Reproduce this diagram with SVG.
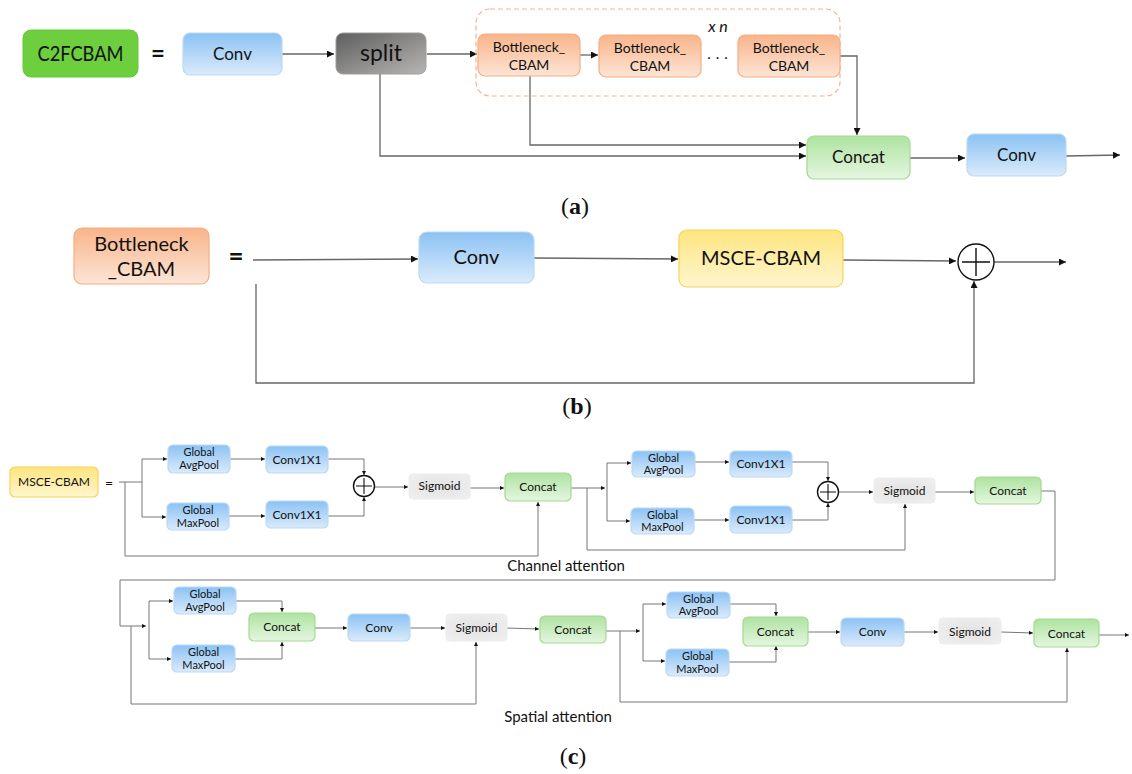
<svg xmlns="http://www.w3.org/2000/svg" width="1132" height="774" viewBox="0 0 1132 774">
<defs>
<linearGradient id="gBlue" x1="0" y1="0" x2="0" y2="1"><stop offset="0" stop-color="#8bc2f4"/><stop offset="1" stop-color="#dbebfb"/></linearGradient>
<linearGradient id="gOrange" x1="0" y1="0" x2="0" y2="1"><stop offset="0" stop-color="#f8b48a"/><stop offset="1" stop-color="#fde5d6"/></linearGradient>
<linearGradient id="gGreen" x1="0" y1="0" x2="0" y2="1"><stop offset="0" stop-color="#aee3a0"/><stop offset="1" stop-color="#e5f6e0"/></linearGradient>
<linearGradient id="gYellow" x1="0" y1="0" x2="0" y2="1"><stop offset="0" stop-color="#fde57f"/><stop offset="1" stop-color="#fff6cf"/></linearGradient>
<linearGradient id="gSplit" x1="0" y1="0" x2="1" y2="1"><stop offset="0" stop-color="#5e5e5e"/><stop offset="1" stop-color="#b8b6b4"/></linearGradient>
<radialGradient id="gSig" cx="0.5" cy="0.5" r="0.7"><stop offset="0" stop-color="#e2e2e2"/><stop offset="1" stop-color="#f0f0f0"/></radialGradient>
<marker id="ah" viewBox="0 0 10 10" refX="10" refY="5" markerWidth="8" markerHeight="7" markerUnits="userSpaceOnUse" orient="auto"><path d="M0,0 L10,5 L0,10 z" fill="#111"/></marker>
<marker id="as" viewBox="0 0 10 10" refX="10" refY="5" markerWidth="5" markerHeight="4" markerUnits="userSpaceOnUse" orient="auto"><path d="M0,0 L10,5 L0,10 z" fill="#111"/></marker>
</defs>
<style>
text{font-family:Lato,"Liberation Sans",sans-serif;fill:#111;text-anchor:middle}
.blue{fill:url(#gBlue);stroke:#b9d9f6;stroke-width:1.2}
.orange{fill:url(#gOrange);stroke:#f5ad82;stroke-width:1.2}
.green{fill:url(#gGreen);stroke:#a3d991;stroke-width:1.2}
.yellow{fill:url(#gYellow);stroke:#f7d35a;stroke-width:1.2}
.sig{fill:url(#gSig);stroke:#ececec;stroke-width:1}
.ca{fill:none;stroke:#666;stroke-width:1.3}
.cc{fill:none;stroke:#777;stroke-width:1}
.ab{marker-end:url(#ah)}
.as{marker-end:url(#as)}
.cap{font-family:"Liberation Serif",serif;font-size:24px}
.t17{font-size:17px}
.t13{font-size:14px}
.t20{font-size:20px}
.t12{font-size:12px}
.t11{font-size:11px}
.plus{fill:#fff;stroke:#111;stroke-width:1.4}
</style>

<!-- connectors -->
<g id="connectors">
<!-- (a) -->
<path class="ca ab" d="M282,54 L334,54"/>
<path class="ca ab" d="M427,54 L477,54"/>
<path class="ca ab" d="M580,55 L598,55"/>
<path class="ca ab" d="M840,56 L857,56 L857,135"/>
<path class="ca ab" d="M530,76 L530,145 L806,145"/>
<path class="ca ab" d="M380,74 L380,156 L806,156"/>
<path class="ca ab" d="M910,158 L965,158"/>
<path class="ca ab" d="M1066,156 L1120,155"/>
<!-- (b) -->
<path class="ca ab" d="M253,260 L418,259"/>
<path class="ca ab" d="M534,258 L678,259"/>
<path class="ca ab" d="M843,260 L956,261"/>
<path class="ca ab" d="M994,262 L1066,262"/>
<path class="ca ab" d="M256,284 L256,383 L974,383 L974,281"/>
<!-- (c) channel block 1 -->
<path class="cc" d="M119,482 L142,482"/>
<path class="cc" d="M142,459 L142,517"/>
<path class="cc as" d="M142,459 L167,459"/>
<path class="cc as" d="M142,517 L166,517"/>
<path class="cc as" d="M125,482 L125,556 L538,556 L538,502"/>
<path class="cc as" d="M230,459 L265,459"/>
<path class="cc as" d="M229,516 L265,516"/>
<path class="cc as" d="M328,459 L364,459 L364,475"/>
<path class="cc as" d="M328,516 L364,516 L364,497"/>
<path class="cc as" d="M375,487 L408,487"/>
<path class="cc as" d="M470,488 L504,488"/>
<path class="cc as" d="M571,488 L605,488"/>
<path class="cc" d="M607,463 L607,521"/>
<path class="cc as" d="M607,463 L631,463"/>
<path class="cc as" d="M607,521 L630,521"/>
<path class="cc as" d="M587,488 L587,550 L905,550 L905,504"/>
<!-- (c) channel block 2 -->
<path class="cc as" d="M695,462 L729,462"/>
<path class="cc as" d="M694,520 L729,520"/>
<path class="cc as" d="M792,462 L828,462 L828,481"/>
<path class="cc as" d="M792,520 L828,520 L828,503"/>
<path class="cc as" d="M839,492 L873,492"/>
<path class="cc as" d="M935,492 L974,492"/>
<path class="cc as" d="M1041,491 L1055,491 L1055,580 L120,580 L120,626 L146,626"/>
<!-- (c) spatial block 1 -->
<path class="cc" d="M149,601 L149,659"/>
<path class="cc as" d="M149,601 L173,601"/>
<path class="cc as" d="M149,659 L171,659"/>
<path class="cc as" d="M131,626 L131,704 L476,704 L476,642"/>
<path class="cc as" d="M236,601 L282,601 L282,612"/>
<path class="cc as" d="M235,659 L282,659 L282,642"/>
<path class="cc as" d="M315,628 L347,628"/>
<path class="cc as" d="M410,628 L445,628"/>
<path class="cc as" d="M507,628 L539,629"/>
<path class="cc as" d="M606,631 L640,631"/>
<path class="cc" d="M643,604 L643,661"/>
<path class="cc as" d="M643,604 L666,604"/>
<path class="cc as" d="M643,661 L665,661"/>
<path class="cc as" d="M620,631 L620,702 L1067,702 L1067,648"/>
<!-- (c) spatial block 2 -->
<path class="cc as" d="M730,604 L776,604 L776,616"/>
<path class="cc as" d="M729,662 L776,662 L776,646"/>
<path class="cc as" d="M808,632 L840,632"/>
<path class="cc as" d="M904,632 L938,632"/>
<path class="cc as" d="M1001,632 L1033,633"/>
<path class="cc as" d="M1099,635 L1129,635"/>
</g>

<!-- (a) nodes -->
<g id="a_c2fcbam"><rect x="23" y="30" width="115" height="47" rx="8" fill="#6dce3e" stroke="#66c838"/><text x="80.5" y="61" style="font-size:21px" textLength="86" lengthAdjust="spacingAndGlyphs">C2FCBAM</text></g>
<g id="a_eq"><text x="158" y="62" style="font-size:24px;font-weight:bold">=</text></g>
<g id="a_conv1"><rect class="blue" x="183" y="33" width="99" height="42" rx="7"/><text class="t17" x="232.5" y="60">Conv</text></g>
<g id="a_split"><rect x="336" y="33" width="90" height="41" rx="7" fill="url(#gSplit)" stroke="#9c9c9c"/><text x="381" y="61" style="font-size:23px">split</text></g>
<g id="a_repeat"><rect x="476" y="9" width="364" height="87" rx="14" fill="none" stroke="#f7b48c" stroke-width="1.2" stroke-dasharray="5 3"/><text x="718" y="32" style="font-size:16px;font-style:italic">x n</text><text x="720" y="59" style="font-size:15px;letter-spacing:5px">...</text></g>
<g id="a_bn1"><rect class="orange" x="478" y="34" width="102" height="42" rx="7"/><text class="t13" x="529" y="52">Bottleneck_</text><text class="t13" x="529" y="70">CBAM</text></g>
<g id="a_bn2"><rect class="orange" x="599" y="35" width="102" height="42" rx="7"/><text class="t13" x="650" y="53">Bottleneck_</text><text class="t13" x="650" y="71">CBAM</text></g>
<g id="a_bn3"><rect class="orange" x="738" y="35" width="102" height="42" rx="7"/><text class="t13" x="789" y="53">Bottleneck_</text><text class="t13" x="789" y="71">CBAM</text></g>
<g id="a_concat"><rect class="green" x="807" y="136" width="103" height="43" rx="7"/><text class="t17" x="858.5" y="163">Concat</text></g>
<g id="a_conv2"><rect class="blue" x="967" y="134" width="99" height="42" rx="7"/><text class="t17" x="1016.5" y="161">Conv</text></g>
<g id="a_caption"><text class="cap" x="575" y="214">(<tspan font-weight="bold">a</tspan>)</text></g>

<!-- (b) nodes -->
<g id="b_bottleneck"><rect class="orange" x="74" y="228" width="135" height="56" rx="8"/><text class="t20" x="141.5" y="251">Bottleneck</text><text class="t20" x="141.5" y="276">_CBAM</text></g>
<g id="b_eq"><text x="236" y="265" style="font-size:26px;font-weight:bold">=</text></g>
<g id="b_conv"><rect class="blue" x="419" y="232" width="115" height="51" rx="8"/><text class="t20" x="476.5" y="264">Conv</text></g>
<g id="b_msce"><rect class="yellow" x="679" y="230" width="164" height="57" rx="8"/><text class="t20" x="761" y="265">MSCE-CBAM</text></g>
<g id="b_add"><circle class="plus" cx="976" cy="262" r="18"/><path d="M976,248 L976,276 M962,262 L990,262" stroke="#111" stroke-width="1.4"/></g>
<g id="b_caption"><text class="cap" x="577" y="414">(<tspan font-weight="bold">b</tspan>)</text></g>

<!-- (c) channel attention 1 -->
<g id="c_msce"><rect class="yellow" x="10" y="467" width="88" height="30" rx="5"/><text class="t12" x="54" y="486">MSCE-CBAM</text></g>
<g id="c_eq"><text x="109" y="488" style="font-size:14px">=</text></g>
<g id="c1_avg"><rect class="blue" x="168" y="445" width="62" height="28" rx="5"/><text class="t11" x="199" y="456">Global</text><text class="t11" x="199" y="469">AvgPool</text></g>
<g id="c1_max"><rect class="blue" x="167" y="503" width="62" height="27" rx="5"/><text class="t11" x="198" y="514">Global</text><text class="t11" x="198" y="527">MaxPool</text></g>
<g id="c1_conv_t"><rect class="blue" x="266" y="446" width="62" height="27" rx="5"/><text class="t12" x="297" y="464">Conv1X1</text></g>
<g id="c1_conv_b"><rect class="blue" x="266" y="501" width="62" height="27" rx="5"/><text class="t12" x="297" y="519">Conv1X1</text></g>
<g id="c1_add"><circle class="plus" cx="364" cy="486" r="10.5"/><path d="M364,478 L364,494 M356,486 L372,486" stroke="#111" stroke-width="1.1"/></g>
<g id="c1_sig"><rect class="sig" x="409" y="474" width="61" height="25" rx="4"/><text class="t12" x="439.5" y="490">Sigmoid</text></g>
<g id="c1_concat"><rect class="green" x="505" y="473" width="66" height="28" rx="5"/><text class="t12" x="538" y="491">Concat</text></g>
<!-- (c) channel attention 2 -->
<g id="c2_avg"><rect class="blue" x="632" y="451" width="63" height="26" rx="5"/><text class="t11" x="663.5" y="462">Global</text><text class="t11" x="663.5" y="474">AvgPool</text></g>
<g id="c2_max"><rect class="blue" x="631" y="508" width="63" height="26" rx="5"/><text class="t11" x="662.5" y="519">Global</text><text class="t11" x="662.5" y="531">MaxPool</text></g>
<g id="c2_conv_t"><rect class="blue" x="730" y="451" width="62" height="26" rx="5"/><text class="t12" x="761" y="468">Conv1X1</text></g>
<g id="c2_conv_b"><rect class="blue" x="730" y="506" width="62" height="27" rx="5"/><text class="t12" x="761" y="524">Conv1X1</text></g>
<g id="c2_add"><circle class="plus" cx="828" cy="492" r="10.5"/><path d="M828,484 L828,500 M820,492 L836,492" stroke="#111" stroke-width="1.1"/></g>
<g id="c2_sig"><rect class="sig" x="874" y="478" width="61" height="25" rx="4"/><text class="t12" x="904.5" y="495">Sigmoid</text></g>
<g id="c2_concat"><rect class="green" x="975" y="477" width="66" height="27" rx="5"/><text class="t12" x="1008" y="495">Concat</text></g>
<g id="c_label_channel"><text x="566" y="571" style="font-size:15px">Channel attention</text></g>
<!-- (c) spatial attention 1 -->
<g id="s1_avg"><rect class="blue" x="174" y="587" width="62" height="27" rx="5"/><text class="t11" x="205" y="598">Global</text><text class="t11" x="205" y="611">AvgPool</text></g>
<g id="s1_max"><rect class="blue" x="172" y="645" width="63" height="27" rx="5"/><text class="t11" x="203.5" y="656">Global</text><text class="t11" x="203.5" y="669">MaxPool</text></g>
<g id="s1_concat"><rect class="green" x="249" y="613" width="66" height="28" rx="5"/><text class="t12" x="282" y="631">Concat</text></g>
<g id="s1_conv"><rect class="blue" x="348" y="614" width="62" height="27" rx="5"/><text class="t12" x="379" y="632">Conv</text></g>
<g id="s1_sig"><rect class="sig" x="446" y="614" width="61" height="27" rx="4"/><text class="t12" x="476.5" y="632">Sigmoid</text></g>
<g id="s1_concat2"><rect class="green" x="540" y="616" width="66" height="27" rx="5"/><text class="t12" x="573" y="634">Concat</text></g>
<!-- (c) spatial attention 2 -->
<g id="s2_avg"><rect class="blue" x="667" y="592" width="63" height="26" rx="5"/><text class="t11" x="698.5" y="603">Global</text><text class="t11" x="698.5" y="615">AvgPool</text></g>
<g id="s2_max"><rect class="blue" x="666" y="649" width="63" height="27" rx="5"/><text class="t11" x="697.5" y="660">Global</text><text class="t11" x="697.5" y="673">MaxPool</text></g>
<g id="s2_concat"><rect class="green" x="743" y="617" width="65" height="29" rx="5"/><text class="t12" x="775.5" y="636">Concat</text></g>
<g id="s2_conv"><rect class="blue" x="841" y="618" width="63" height="28" rx="5"/><text class="t12" x="872.5" y="636">Conv</text></g>
<g id="s2_sig"><rect class="sig" x="939" y="618" width="62" height="26" rx="4"/><text class="t12" x="970" y="636">Sigmoid</text></g>
<g id="s2_concat2"><rect class="green" x="1034" y="619" width="65" height="28" rx="5"/><text class="t12" x="1066.5" y="638">Concat</text></g>
<g id="c_label_spatial"><text x="558" y="722" style="font-size:15px">Spatial attention</text></g>
<g id="c_caption"><text class="cap" x="573" y="764">(<tspan font-weight="bold">c</tspan>)</text></g>
</svg>
